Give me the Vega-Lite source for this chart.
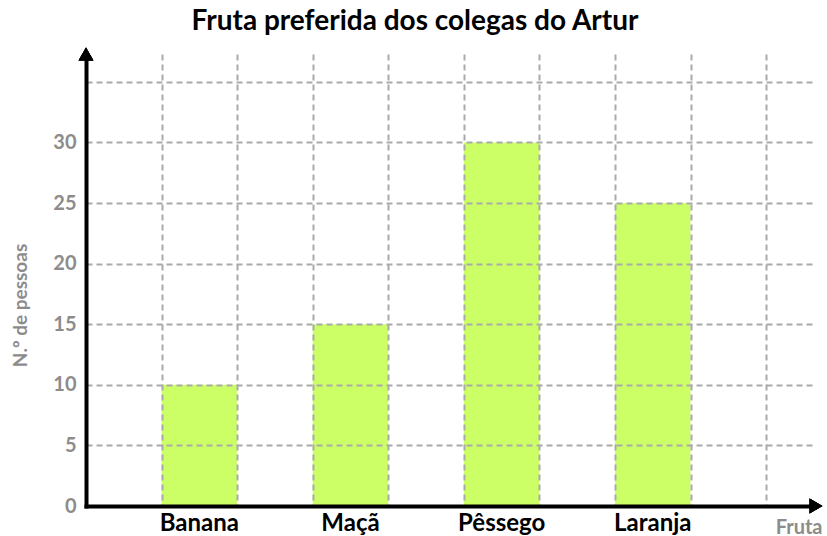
{
  "$schema": "https://vega.github.io/schema/vega-lite/v6.json",
  "width": 730,
  "height": 452,
  "autosize": {"type": "none"},
  "padding": {"left": 86, "top": 54, "right": 11, "bottom": 30},
  "config": {
    "view": {"stroke": null},
    "font": "Lato",
    "axis": {"labelFont": "Lato", "titleFont": "Lato"}
  },
  "title": {
    "text": "Fruta preferida dos colegas do Artur",
    "font": "Lato",
    "fontSize": 28,
    "fontWeight": "bold",
    "color": "#000000",
    "anchor": "middle",
    "frame": "group",
    "dx": -36,
    "offset": 12
  },
  "data": {
    "values": [
      {"fruta": "Banana", "inicio": 1, "fim": 2, "pessoas": 10},
      {"fruta": "Maçã", "inicio": 3, "fim": 4, "pessoas": 15},
      {"fruta": "Pêssego", "inicio": 5, "fim": 6, "pessoas": 30},
      {"fruta": "Laranja", "inicio": 7, "fim": 8, "pessoas": 25}
    ]
  },
  "layer": [
    {
      "mark": {"type": "bar", "color": "#ccff66"},
      "encoding": {
        "x": {
          "field": "inicio",
          "type": "quantitative",
          "scale": {"domain": [0, 9.66], "nice": false, "zero": false},
          "axis": {
            "values": [1, 2, 3, 4, 5, 6, 7, 8, 9],
            "labels": false,
            "ticks": false,
            "grid": true,
            "gridColor": "#aaaaaa",
            "gridWidth": 2,
            "gridDash": [6, 4],
            "domain": true,
            "domainColor": "#000000",
            "domainWidth": 4,
            "domainCap": "square",
            "zindex": 1,
            "title": "Fruta",
            "titleFontSize": 20,
            "titleFontWeight": "bold",
            "titleColor": "#8c8c8c",
            "titleX": 736,
            "titleY": 27,
            "titleAlign": "right",
            "titleBaseline": "alphabetic"
          }
        },
        "x2": {"field": "fim"},
        "y": {
          "field": "pessoas",
          "type": "quantitative",
          "scale": {"domain": [0, 37.3], "nice": false},
          "axis": {
            "values": [0, 5, 10, 15, 20, 25, 30, 35],
            "labelExpr": "datum.value == 35 ? '' : datum.label",
            "labelFontSize": 20,
            "labelFontWeight": "bold",
            "labelColor": "#8c8c8c",
            "labelPadding": 10,
            "ticks": false,
            "grid": true,
            "gridColor": "#aaaaaa",
            "gridWidth": 2,
            "gridDash": [6, 4],
            "domain": true,
            "domainColor": "#000000",
            "domainWidth": 4,
            "domainCap": "square",
            "zindex": 1,
            "title": "N.º de pessoas",
            "titleFontSize": 19,
            "titleFontWeight": "bold",
            "titleColor": "#8c8c8c",
            "titleAngle": -90,
            "titleX": -66,
            "titleY": 251,
            "titleAlign": "center",
            "titleBaseline": "middle"
          }
        },
        "y2": {"datum": 0}
      }
    },
    {
      "mark": {"type": "text", "dx": 37.8, "dy": 25, "align": "center", "baseline": "alphabetic", "fontSize": 24, "fontWeight": "bold", "color": "#000000", "font": "Lato"},
      "encoding": {
        "x": {"field": "inicio", "type": "quantitative"},
        "y": {"datum": 0},
        "text": {"field": "fruta"}
      }
    },
    {
      "mark": {"type": "point", "shape": "triangle-right", "filled": true, "opacity": 1, "color": "#000000", "size": 220},
      "encoding": {
        "x": {"datum": 9.66},
        "y": {"datum": 0}
      }
    },
    {
      "mark": {"type": "point", "shape": "triangle-up", "filled": true, "opacity": 1, "color": "#000000", "size": 220},
      "encoding": {
        "x": {"datum": 0},
        "y": {"datum": 37.3}
      }
    }
  ]
}
